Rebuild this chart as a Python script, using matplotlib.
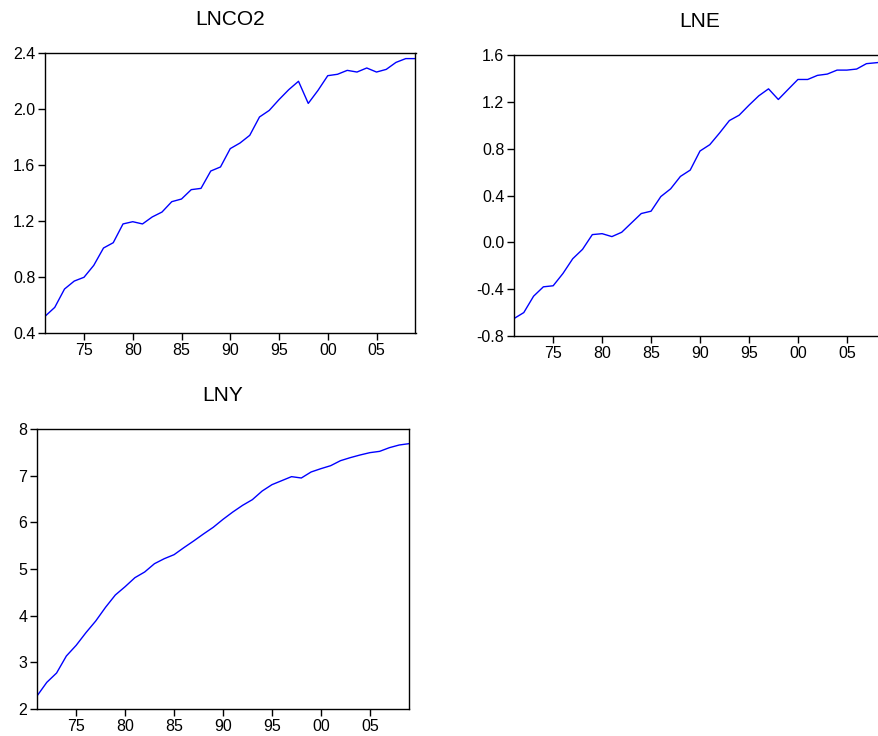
import matplotlib
matplotlib.use("Agg")
import matplotlib.pyplot as plt
from matplotlib import font_manager

years = list(range(1971, 2010))

lnco2 = [0.519, 0.583, 0.714, 0.771, 0.798, 0.883, 1.007, 1.045, 1.179, 1.195,
         1.179, 1.229, 1.264, 1.338, 1.357, 1.424, 1.433, 1.557, 1.586, 1.717,
         1.757, 1.812, 1.943, 1.990, 2.067, 2.138, 2.198, 2.040, 2.133, 2.238,
         2.248, 2.276, 2.264, 2.293, 2.264, 2.283, 2.333, 2.360, 2.360]

lne = [-0.651, -0.600, -0.460, -0.380, -0.371, -0.266, -0.140, -0.060, 0.066, 0.074,
       0.049, 0.086, 0.166, 0.246, 0.266, 0.391, 0.457, 0.563, 0.617, 0.780,
       0.834, 0.934, 1.040, 1.086, 1.171, 1.251, 1.311, 1.220, 1.306, 1.391,
       1.391, 1.426, 1.437, 1.471, 1.471, 1.480, 1.526, 1.534, 1.543]

lny = [2.279, 2.571, 2.771, 3.136, 3.364, 3.636, 3.886, 4.179, 4.443, 4.621,
       4.814, 4.936, 5.114, 5.221, 5.307, 5.457, 5.600, 5.750, 5.893, 6.064,
       6.221, 6.364, 6.486, 6.671, 6.807, 6.893, 6.979, 6.950, 7.079, 7.150,
       7.214, 7.321, 7.386, 7.443, 7.493, 7.521, 7.600, 7.657, 7.686]

titles = ["LNCO2", "LNE", "LNY"]
xtick_years = [1975, 1980, 1985, 1990, 1995, 2000, 2005]
xtick_labels = ["75", "80", "85", "90", "95", "00", "05"]
yticks_co2 = [0.4, 0.8, 1.2, 1.6, 2.0, 2.4]
yticks_e = [-0.8, -0.4, 0.0, 0.4, 0.8, 1.2, 1.6]
yticks_y = [2, 3, 4, 5, 6, 7, 8]

plt.rcParams['font.family'] = ['Liberation Sans', 'DejaVu Sans']
names = {f.name for f in font_manager.fontManager.ttflist}
title_family = 'Liberation Sans Narrow' if 'Liberation Sans Narrow' in names else 'Liberation Sans'

W, H = 879, 736
fig = plt.figure(figsize=(W / 100, H / 100), dpi=100)

def px_axes(left, top, right, bottom):
    return fig.add_axes([left / W, 1 - bottom / H, (right - left) / W, (bottom - top) / H])

panels = [
    (px_axes(45, 53, 415.5, 333), lnco2, yticks_co2, ["0.4", "0.8", "1.2", "1.6", "2.0", "2.4"]),
    (px_axes(514, 55, 886, 336), lne, yticks_e, ["-0.8", "-0.4", "0.0", "0.4", "0.8", "1.2", "1.6"]),
    (px_axes(37, 429, 409, 709), lny, yticks_y, ["2", "3", "4", "5", "6", "7", "8"]),
]

for (ax, data, yt, ytl), title in zip(panels, titles):
    ax.plot(years, data, color='#0000ff', lw=1.0)
    ax.set_xlim(1971, 2009)
    ax.set_ylim(yt[0], yt[-1])
    ax.set_yticks(yt)
    ax.set_yticklabels(ytl)
    ax.set_xticks(xtick_years)
    ax.set_xticklabels(xtick_labels)
    ax.tick_params(direction='out', length=5, width=1, labelsize=11.5, pad=2,
                   colors='black')
    for s in ax.spines.values():
        s.set_linewidth(1.0)
        s.set_color('black')
    ax.set_title(title, fontsize=15, family=title_family, pad=20)

fig.savefig("out.png", dpi=100)
